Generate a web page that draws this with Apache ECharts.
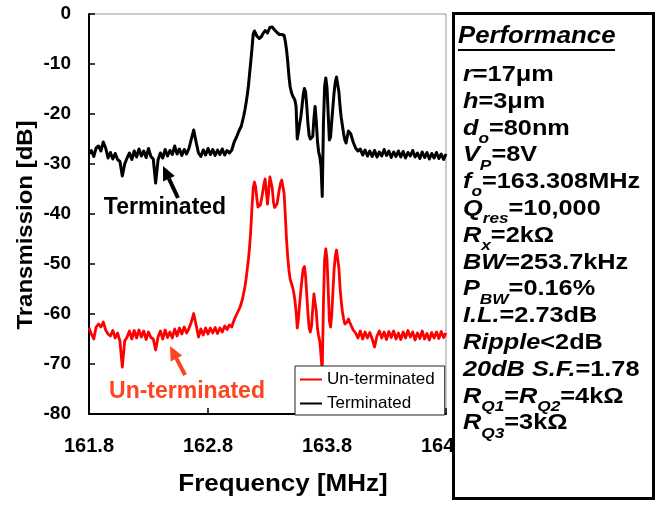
<!DOCTYPE html>
<html>
<head>
<meta charset="utf-8">
<script src="https://cdn.jsdelivr.net/npm/echarts@6.0.0/dist/echarts.min.js"></script>
<style>
html, body { margin: 0; padding: 0; background: #fff; }
#chart { width: 660px; height: 505px; }
</style>
</head>
<body>
<div id="chart"></div>
<script>
// sweep frequencies (MHz), shared by both traces
const freq = [
  161.80,161.82,161.84,161.86,161.88,161.90,161.92,161.94,161.96,161.98,
  162.00,162.02,162.04,162.06,162.08,162.10,162.12,162.14,162.16,162.18,
  162.20,162.22,162.24,162.26,162.28,162.30,162.32,162.34,162.36,162.38,
  162.40,162.42,162.44,162.46,162.48,162.50,162.52,162.54,162.56,162.58,
  162.60,162.62,162.64,162.66,162.68,162.70,162.72,162.74,162.76,162.78,
  162.80,162.82,162.84,162.86,162.88,162.90,162.92,162.94,162.96,162.98,
  163.00,163.01,163.02,163.03,163.04,163.05,163.06,163.07,163.08,163.09,
  163.10,163.11,163.12,163.13,163.14,163.15,163.16,163.17,163.18,163.19,
  163.20,163.21,163.22,163.23,163.24,163.25,163.26,163.27,163.28,163.29,
  163.30,163.31,163.32,163.33,163.34,163.35,163.36,163.37,163.38,163.39,
  163.40,163.41,163.42,163.43,163.44,163.45,163.46,163.47,163.48,163.49,
  163.50,163.51,163.52,163.53,163.54,163.55,163.56,163.57,163.58,163.59,
  163.60,163.61,163.62,163.63,163.64,163.65,163.66,163.67,163.68,163.69,
  163.70,163.71,163.72,163.73,163.74,163.75,163.76,163.77,163.78,163.79,
  163.80,163.81,163.82,163.83,163.84,163.85,163.86,163.87,163.88,163.89,
  163.90,163.91,163.92,163.93,163.94,163.95,163.96,163.97,163.98,163.99,
  164.00,164.02,164.04,164.06,164.08,164.10,164.12,164.14,164.16,164.18,
  164.20,164.22,164.24,164.26,164.28,164.30,164.32,164.34,164.36,164.38,
  164.40,164.42,164.44,164.46,164.48,164.50,164.52,164.54,164.56,164.58,
  164.60,164.62,164.64,164.66,164.68,164.70,164.72,164.74,164.76,164.78,
  164.80
];

// Terminated (dB)
const terminated = [
  -28.0,-27.3,-28.5,-26.8,-26.4,-27.4,-25.6,-26.8,-28.8,-27.7,
  -29.0,-27.9,-29.1,-29.5,-32.4,-30.0,-28.8,-27.8,-29.1,-27.4,
  -28.6,-27.0,-28.4,-27.4,-28.7,-26.9,-28.5,-29.0,-33.8,-29.2,
  -27.8,-28.8,-27.1,-28.4,-27.3,-28.1,-26.4,-28.0,-27.0,-28.3,
  -27.1,-28.0,-26.9,-25.0,-23.2,-25.6,-27.8,-28.5,-27.2,-28.2,
  -26.9,-28.1,-27.1,-28.3,-27.2,-28.1,-27.0,-28.2,-27.3,-27.8,
  -27.2,-26.4,-25.6,-25.2,-24.6,-24.0,-23.4,-23.0,-22.4,-21.4,
  -20.4,-19.2,-17.8,-16.2,-14.3,-11.8,-9.4,-6.8,-4.0,-3.4,
  -3.8,-4.4,-4.8,-4.9,-4.8,-4.5,-4.0,-3.6,-3.3,-3.3,
  -3.8,-3.6,-2.7,-2.3,-2.6,-3.0,-3.2,-3.5,-3.7,-3.9,
  -4.1,-4.0,-4.1,-3.9,-4.3,-5.5,-7.2,-9.5,-12.4,-14.5,
  -15.6,-16.3,-16.7,-17.2,-18.5,-25.0,-23.6,-22.0,-20.6,-18.5,
  -16.2,-14.9,-15.6,-18.4,-22.0,-24.3,-25.0,-25.2,-24.5,-21.0,
  -18.5,-21.5,-25.5,-27.6,-28.6,-30.5,-36.5,-22.0,-14.5,-12.8,
  -14.8,-20.0,-25.2,-24.6,-21.4,-18.5,-15.6,-13.6,-12.6,-13.0,
  -15.6,-18.6,-20.8,-22.4,-24.0,-25.2,-25.8,-24.6,-23.4,-23.6,
  -24.0,-25.6,-26.8,-27.4,-27.0,-28.2,-27.2,-28.4,-27.4,-28.5,
  -27.3,-28.6,-27.6,-28.4,-27.1,-28.3,-27.4,-28.7,-27.6,-28.5,
  -27.4,-28.6,-27.5,-28.8,-27.7,-28.4,-27.3,-28.6,-27.8,-28.9,
  -27.6,-28.7,-27.7,-29.0,-27.9,-28.8,-27.7,-28.9,-28.0,-29.1,
  -28.0
];

// Un-terminated (dB)
const unterminated = [
  -62.8,-64.0,-65.0,-62.6,-62.0,-62.6,-61.6,-63.2,-64.0,-64.4,
  -63.3,-64.8,-63.8,-65.4,-70.6,-65.4,-64.6,-63.4,-65.0,-63.3,
  -64.8,-63.2,-64.6,-63.4,-65.1,-63.6,-64.7,-65.0,-67.2,-64.6,
  -63.4,-65.0,-63.2,-64.7,-63.6,-64.8,-63.0,-64.4,-62.8,-64.0,
  -62.6,-63.8,-62.9,-61.6,-59.9,-62.2,-64.6,-63.0,-64.2,-62.8,
  -64.0,-62.8,-63.8,-62.7,-63.9,-62.8,-63.6,-62.4,-63.1,-62.2,
  -62.6,-61.8,-61.2,-60.6,-60.2,-59.6,-59.2,-58.6,-57.8,-57.0,
  -55.8,-54.6,-53.0,-51.0,-49.0,-46.5,-43.0,-38.5,-34.8,-33.6,
  -34.5,-36.8,-38.6,-38.9,-38.2,-37.0,-35.6,-34.0,-33.0,-33.2,
  -38.0,-35.5,-32.6,-32.4,-34.8,-37.6,-38.7,-38.6,-38.0,-36.5,
  -35.0,-33.8,-33.2,-33.6,-36.0,-40.5,-45.2,-48.6,-51.2,-53.0,
  -53.8,-54.6,-55.6,-57.2,-59.4,-62.8,-61.0,-58.0,-55.4,-53.0,
  -51.0,-50.5,-52.4,-56.2,-60.0,-62.8,-63.6,-62.4,-59.0,-56.0,
  -55.8,-59.5,-63.0,-64.4,-65.6,-68.5,-71.5,-58.0,-49.0,-47.0,
  -49.0,-55.0,-61.4,-62.6,-60.2,-55.4,-51.0,-48.4,-47.2,-47.6,
  -50.8,-54.8,-57.6,-59.6,-61.0,-62.0,-62.2,-61.6,-61.0,-61.6,
  -62.0,-63.2,-63.8,-64.8,-63.4,-65.0,-63.6,-64.8,-63.7,-65.0,
  -66.6,-64.4,-63.4,-64.8,-63.6,-65.1,-63.5,-64.7,-63.4,-65.0,
  -63.8,-65.1,-63.6,-64.8,-63.3,-64.6,-63.6,-65.2,-63.8,-64.9,
  -63.4,-65.0,-63.9,-65.2,-63.7,-64.8,-63.6,-64.9,-63.5,-64.7,
  -63.8
];

const seriesNames = ['Un-terminated', 'Terminated'];

// performance box lines (rich text)
const perfLines = [
  '{i|r}{n|=17μm}',
  '{i|h}{n|=3μm}',
  '{i|d}{s|o}{n|=80nm}',
  '{i|V}{s|P}{n|=8V}',
  '{i|f}{s|o}{n|=163.308MHz}',
  '{i|Q}{s|res}{n|=10,000}',
  '{i|R}{s|x}{n|=2kΩ}',
  '{i|BW}{n|=253.7kHz}',
  '{i|P}{s|BW}{n|=0.16%}',
  '{i|I.L.}{n|=2.73dB}',
  '{i|Ripple}{n|<2dB}',
  '{i|20dB S.F.}{n|=1.78}',
  '{i|R}{s|Q1}{n|=}{i|R}{s|Q2}{n|=4kΩ}',
  '{i|R}{s|Q3}{n|=3kΩ}'
];

const FONT = 'Liberation Sans';

function arrow(tail, tip, color) {
    var dx = tip[0] - tail[0], dy = tip[1] - tail[1];
    var L = Math.hypot(dx, dy), ux = dx / L, uy = dy / L;
    var hl = 14, hw = 6.5;
    var bx = tip[0] - ux * hl, by = tip[1] - uy * hl;
    return [
        { type: 'line', z: 50, shape: { x1: tail[0], y1: tail[1], x2: bx, y2: by },
          style: { stroke: color, lineWidth: 4 } },
        { type: 'polygon', z: 50,
          shape: { points: [tip, [bx - uy * hw, by + ux * hw], [bx + uy * hw, by - ux * hw]] },
          style: { fill: color } }
    ];
}

function label(x, y, text, size, color, sx, rot) {
    return {
        type: 'text', x: x, y: y, z: 60, scaleX: sx || 1, rotation: rot || 0,
        style: {
            text: text, fill: color, fontSize: size, fontWeight: 'bold', fontFamily: FONT,
            align: 'center', verticalAlign: 'middle', textAlign: 'center', textVerticalAlign: 'middle'
        }
    };
}

var graphics = [];
graphics.push(label(26, 225, 'Transmission [dB]', 22, '#000', 1.09, Math.PI / 2));
graphics.push(label(283, 485, 'Frequency [MHz]', 23, '#000', 1.13));
graphics.push(label(165, 208, 'Terminated', 23, '#000'));
graphics.push(label(187, 392, 'Un-terminated', 23, '#ff4420'));
graphics = graphics.concat(arrow([178, 198], [163, 166], '#000'));
graphics = graphics.concat(arrow([185, 375], [170, 346], '#ff4420'));

// performance box
graphics.push({ type: 'rect', z: 100, shape: { x: 453.5, y: 13.5, width: 200, height: 485 },
    style: { fill: '#fff', stroke: '#000', lineWidth: 3 } });
graphics.push({ type: 'text', x: 458, y: 37, z: 101, scaleX: 1.12,
    style: { text: 'Performance', fill: '#000', fontSize: 23, fontWeight: 'bold', fontStyle: 'italic',
        fontFamily: FONT, align: 'left', verticalAlign: 'middle', textAlign: 'left', textVerticalAlign: 'middle' } });
graphics.push({ type: 'line', z: 101, shape: { x1: 458, y1: 50, x2: 615, y2: 50 },
    style: { stroke: '#000', lineWidth: 2 } });

perfLines.forEach(function (t, i) {
    graphics.push({
        type: 'text', x: 463, y: 75 + 26.8 * i - 11, z: 101, scaleX: 1.15,
        style: {
            text: t, fill: '#000', align: 'left', verticalAlign: 'top', textAlign: 'left', textVerticalAlign: 'top',
            rich: {
                i: { fontSize: 22, fontWeight: 'bold', fontStyle: 'italic', fontFamily: FONT, verticalAlign: 'top' },
                n: { fontSize: 22, fontWeight: 'bold', fontFamily: FONT, verticalAlign: 'top' },
                s: { fontSize: 15, fontWeight: 'bold', fontStyle: 'italic', fontFamily: FONT, verticalAlign: 'top', height: 42 }
            }
        }
    });
});

var chart = echarts.init(document.getElementById('chart'), null, { renderer: 'canvas' });

chart.setOption({
    animation: false,
    backgroundColor: '#fff',
    grid: { left: 89, right: 214, top: 14, bottom: 91, show: true, borderColor: '#999', borderWidth: 1 },
    legend: {
        left: 295, top: 366, orient: 'vertical', data: seriesNames,
        icon: 'rect', itemWidth: 22, itemHeight: 2, itemGap: 7,
        padding: [5, 10, 3, 5], borderColor: '#222', borderWidth: 1, backgroundColor: '#fff',
        textStyle: { fontSize: 17, fontFamily: FONT, color: '#000' }
    },
    xAxis: {
        type: 'value', min: 161.8, max: 164.8, interval: 1,
        axisLine: { onZero: false, lineStyle: { color: '#000', width: 2 } },
        axisTick: { inside: true, length: 6, lineStyle: { color: '#000', width: 1.5 } },
        splitLine: { show: false },
        axisLabel: { margin: 22, fontSize: 20, fontWeight: 'bold', fontFamily: FONT, color: '#000',
            showMaxLabel: true, formatter: function (v) { return v.toFixed(1); } }
    },
    yAxis: {
        type: 'value', min: -80, max: 0, interval: 10,
        axisLine: { show: true, lineStyle: { color: '#000', width: 2 } },
        axisTick: { show: true, inside: true, length: 6, lineStyle: { color: '#000', width: 1.5 } },
        splitLine: { show: false },
        axisLabel: { margin: 18, fontSize: 19, fontWeight: 'bold', fontFamily: FONT, color: '#000' }
    },
    series: [
        {
            name: seriesNames[0], type: 'line', showSymbol: false, color: '#ff0000',
            lineStyle: { width: 2.8, color: '#ff0000', join: 'round' },
            data: freq.map(function (f, i) { return [f, unterminated[i]]; })
        },
        {
            name: seriesNames[1], type: 'line', showSymbol: false, color: '#000',
            lineStyle: { width: 3, color: '#000', join: 'round' },
            data: freq.map(function (f, i) { return [f, terminated[i]]; })
        }
    ],
    graphic: graphics
});
</script>
</body>
</html>
